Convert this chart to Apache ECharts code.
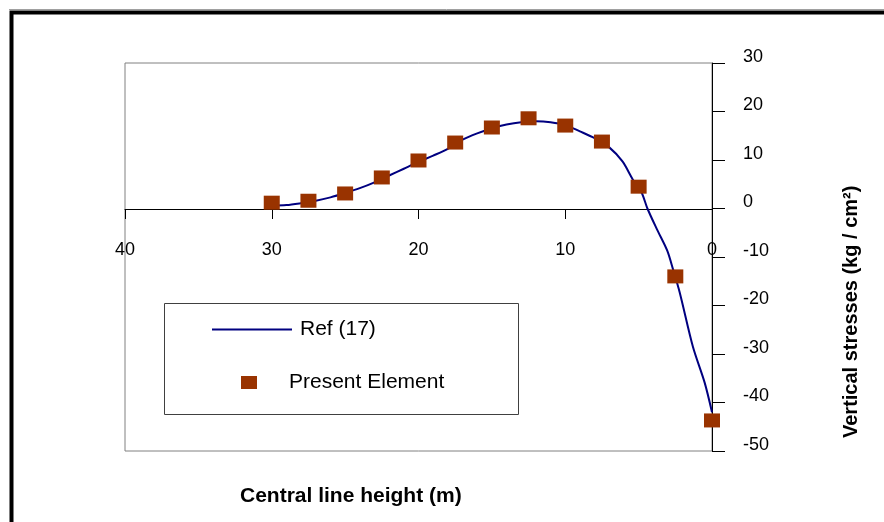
<!DOCTYPE html>
<html>
<head>
<meta charset="utf-8">
<script src="https://cdn.jsdelivr.net/npm/echarts@6/dist/echarts.min.js"></script>
<style>
  html, body { margin: 0; padding: 0; background: #fff; }
  #chart { width: 884px; height: 522px; }
</style>
</head>
<body>
<div id="chart"></div>
<script>
// Ref (17) curve: [central line height (m), vertical stress]
const refCurve = [
  [30, 0.6], [29, 0.7], [28, 1.1], [27, 1.6], [26, 2.3], [25, 3.2],
  [24, 4.2], [23, 5.4], [22, 6.8], [21, 8.2], [20, 9.6], [19, 10.9],
  [18, 12.3], [17, 14.2], [16, 15.5], [15, 16.5], [14, 17.3], [13, 17.8],
  [12, 18.0], [11, 17.8], [10, 17.2], [9, 15.9], [8, 14.5], [7, 12.6],
  [6.1, 9.7], [5.4, 6.0], [4.8, 3.3], [4.4, 0], [3.75, -4.3], [3.05, -8.7],
  [2.65, -12.6], [2.2, -17.3], [1.3, -28.5], [0.5, -35.9], [0, -42]
];

// Present Element results
const presentHeights = [30, 27.5, 25, 22.5, 20, 17.5, 15, 12.5, 10, 7.5, 5, 2.5, 0];
const presentStress  = [1.2, 1.6, 3.1, 6.4, 9.9, 13.6, 16.7, 18.6, 17.1, 13.8, 4.5, -14, -43.7];

const xTicks = { min: 0, max: 40, interval: 10 };
const yTicks = { min: -50, max: 30, interval: 10 };

const FONT = '"Liberation Sans", Arial, sans-serif';

const chart = echarts.init(document.getElementById('chart'));

chart.setOption({
  backgroundColor: '#ffffff',
  animation: false,
  textStyle: { fontFamily: FONT },
  grid: {
    left: 125, right: 172, top: 63, bottom: 71,
    show: true,
    borderColor: '#808080',
    borderWidth: 1
  },
  xAxis: {
    type: 'value',
    inverse: true,
    min: xTicks.min, max: xTicks.max, interval: xTicks.interval,
    position: 'bottom',
    // axis sits on y = 0 (30 of 80 units down from the top)
    offset: -242,
    axisLine: { onZero: false, lineStyle: { color: '#000', width: 1 } },
    axisTick: { show: true, inside: false, length: 10, lineStyle: { color: '#000' } },
    axisLabel: { color: '#000', fontSize: 18, fontFamily: FONT, margin: 32 },
    splitLine: { show: false }
  },
  yAxis: {
    type: 'value',
    position: 'right',
    min: yTicks.min, max: yTicks.max, interval: yTicks.interval,
    axisLine: { show: true, onZero: false, lineStyle: { color: '#000', width: 1 } },
    axisTick: { show: true, inside: false, length: 13, lineStyle: { color: '#000' } },
    axisLabel: {
      color: '#000', fontSize: 18, fontFamily: FONT, margin: 31,
      verticalAlign: 'bottom', lineHeight: 12
    },
    splitLine: { show: false }
  },
  legend: [
    {
      data: [{ name: 'Ref (17)', icon: 'rect' }],
      left: 212, top: 319,
      itemWidth: 80, itemHeight: 2,
      padding: 0,
      textStyle: { fontSize: 21, color: '#000', fontFamily: FONT, padding: [0, 0, 0, 3] }
    },
    {
      data: [{ name: 'Present Element', icon: 'rect' }],
      left: 241, top: 372,
      itemWidth: 16, itemHeight: 13,
      padding: 0,
      textStyle: { fontSize: 21, color: '#000', fontFamily: FONT, padding: [0, 0, 0, 27] }
    }
  ],
  graphic: [
    // outer frame
    {
      type: 'line', z: 10,
      shape: { x1: 9, y1: 9.5, x2: 884, y2: 9.5 },
      style: { stroke: '#a0a0a0', lineWidth: 1 }
    },
    {
      type: 'rect', z: 10,
      shape: { x: 11.5, y: 12.5, width: 900, height: 540 },
      style: { fill: 'none', stroke: '#000', lineWidth: 4 }
    },
    // legend box
    {
      type: 'rect', z: 1,
      shape: { x: 164.5, y: 303.5, width: 354, height: 111 },
      style: { fill: '#fff', stroke: '#404040', lineWidth: 1 }
    },
    // axis titles
    {
      type: 'text',
      left: 240, top: 486,
      style: {
        text: 'Central line height (m)',
        font: 'bold 21px ' + FONT,
        fill: '#000'
      }
    },
    {
      type: 'text',
      x: 841, y: 438,
      rotation: Math.PI / 2,
      style: {
        text: 'Vertical stresses (kg / cm²)',
        font: 'bold 20px ' + FONT,
        fill: '#000'
      }
    }
  ],
  series: [
    {
      name: 'Ref (17)',
      type: 'line',
      data: refCurve,
      smooth: 0.3,
      symbol: 'none',
      lineStyle: { color: '#000080', width: 2 },
      itemStyle: { color: '#000080' },
      z: 2
    },
    {
      name: 'Present Element',
      type: 'scatter',
      data: presentHeights.map((h, i) => [h, presentStress[i]]),
      symbol: 'rect',
      symbolSize: [16, 14],
      itemStyle: { color: '#993300', opacity: 1 },
      z: 3
    }
  ]
});
</script>
</body>
</html>
